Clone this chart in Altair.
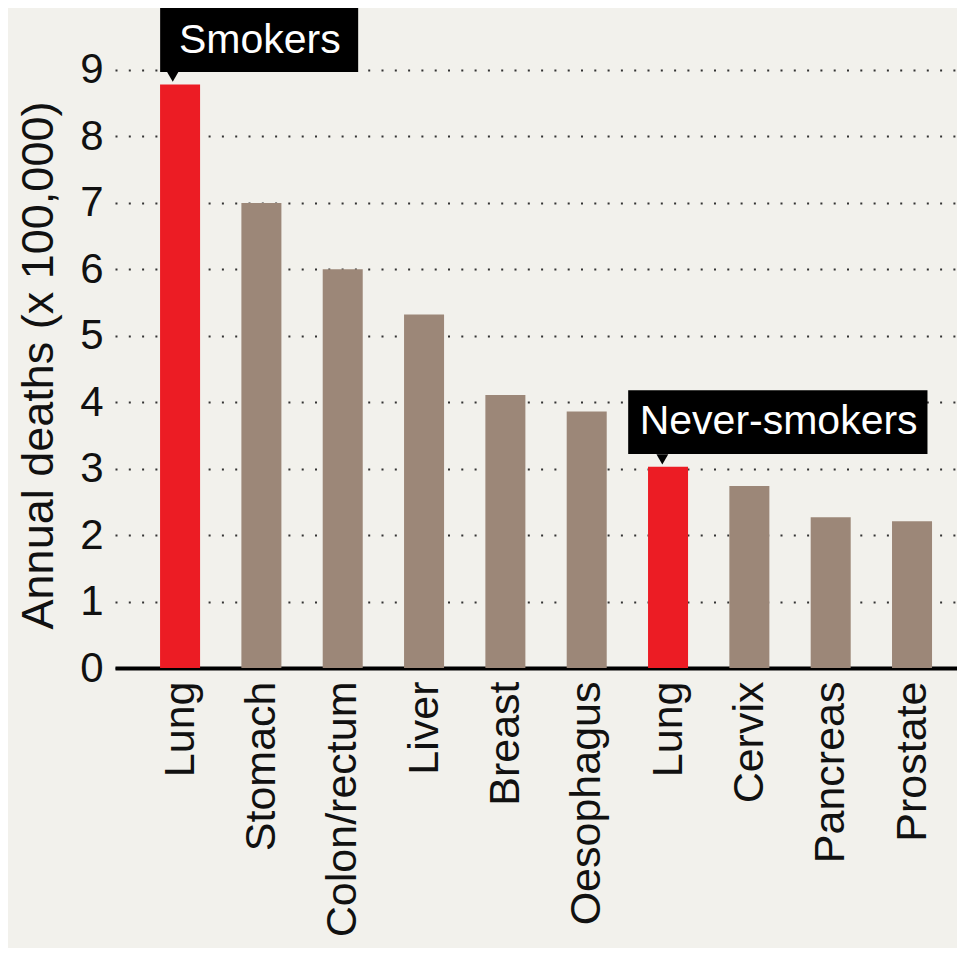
import altair as alt
import pandas as pd

# ---- data ----
categories = ["Lung", "Stomach", "Colon/rectum", "Liver", "Breast",
              "Oesophagus", "Lung", "Cervix", "Pancreas", "Prostate"]
deaths = [8.78, 7.0, 6.0, 5.32, 4.11, 3.86, 3.03, 2.74, 2.27, 2.21]
groups = ["Smokers", "Other", "Other", "Other", "Other",
          "Other", "Never-smokers", "Other", "Other", "Other"]
y_ticks = [0, 1, 2, 3, 4, 5, 6, 7, 8, 9]

# annotation callouts (label, box extent in data units, pointer, text anchor)
ann_labels = ["Smokers", "Never-smokers"]
ann_x0 = [-0.245, 5.51]
ann_x1 = [2.19, 9.19]
ann_y0 = [8.97, 3.22]
ann_y1 = [10.0, 4.18]
ann_tx = [0.98, 7.36]
ann_ty = [9.43, 3.70]
ptr_x = [-0.09, 5.93]
ptr_y = [8.9, 3.14]

FONT = "Liberation Sans"
RED = "#ec1c24"
TAUPE = "#9c8778"
BG = "#f2f1ec"

df = pd.DataFrame({"idx": list(range(len(categories))), "cat": categories,
                   "deaths": deaths, "group": groups})
df["hl"] = df["group"].map(lambda g: "hl" if g != "Other" else "base")

ann = pd.DataFrame({"label": ann_labels, "x0": ann_x0, "x1": ann_x1,
                    "y0": ann_y0, "y1": ann_y1, "tx": ann_tx, "ty": ann_ty,
                    "px": ptr_x, "py": ptr_y})

xscale = alt.Scale(domain=[-0.8, 9.553], nice=False, zero=False)
yscale = alt.Scale(domain=[0, 9.933], nice=False)

label_js = "[" + ",".join('"%s"' % c for c in categories) + "]"

xaxis = alt.Axis(values=list(range(len(categories))),
                 labelExpr=label_js + "[datum.value]",
                 labelAngle=-90, labelFontSize=43, labelFont=FONT,
                 labelFontWeight=300,
                 labelColor="#111", labelPadding=13, ticks=False,
                 grid=False, domainColor="#000", domainWidth=4,
                 labelFlush=False, labelOverlap=False, labelLimit=0,
                 title=None)
yaxis = alt.Axis(values=y_ticks, format="d", labelFontSize=42,
                 labelFont=FONT, labelFontWeight=300,
                 labelColor="#111", labelPadding=12, ticks=False,
                 domain=False, grid=True, gridColor="#333",
                 gridDash=[2, 11.3], gridWidth=2,
                 title="Annual deaths (x 100,000)", titleFont=FONT,
                 titleFontSize=45, titleFontWeight=300, titleY=357,
                 titleColor="#111", titlePadding=18)

bars = alt.Chart(df).transform_calculate(
    x0="datum.idx - 0.246", x1="datum.idx + 0.246", base="0"
).mark_bar().encode(
    x=alt.X("x0:Q", scale=xscale, axis=xaxis),
    x2="x1:Q",
    y=alt.Y("deaths:Q", scale=yscale, axis=yaxis),
    y2="base:Q",
    color=alt.Color("hl:N", scale=alt.Scale(domain=["hl", "base"],
                                            range=[RED, TAUPE]), legend=None),
)

boxes = alt.Chart(ann).mark_rect(color="#000").encode(
    x=alt.X("x0:Q", scale=xscale), x2="x1:Q",
    y=alt.Y("y0:Q", scale=yscale), y2="y1:Q",
)

pointers = alt.Chart(ann).mark_point(shape="triangle-down", filled=True,
                                     color="#000", size=140, opacity=1).encode(
    x=alt.X("px:Q", scale=xscale), y=alt.Y("py:Q", scale=yscale),
)

texts = alt.Chart(ann).mark_text(color="#fff", font=FONT, fontSize=41,
                                 fontWeight=300,
                                 align="center", baseline="middle").encode(
    x=alt.X("tx:Q", scale=xscale), y=alt.Y("ty:Q", scale=yscale),
    text="label:N",
)

chart = alt.layer(bars, boxes, pointers, texts).properties(
    width=842, height=660,
    autosize=alt.AutoSizeParams(type="none"),
    padding={"left": 107, "top": 0, "right": 0, "bottom": 280},
    background=BG,
).configure_view(stroke=None)

chart.save("out.html", embed_options={"renderer": "svg", "actions": False})
